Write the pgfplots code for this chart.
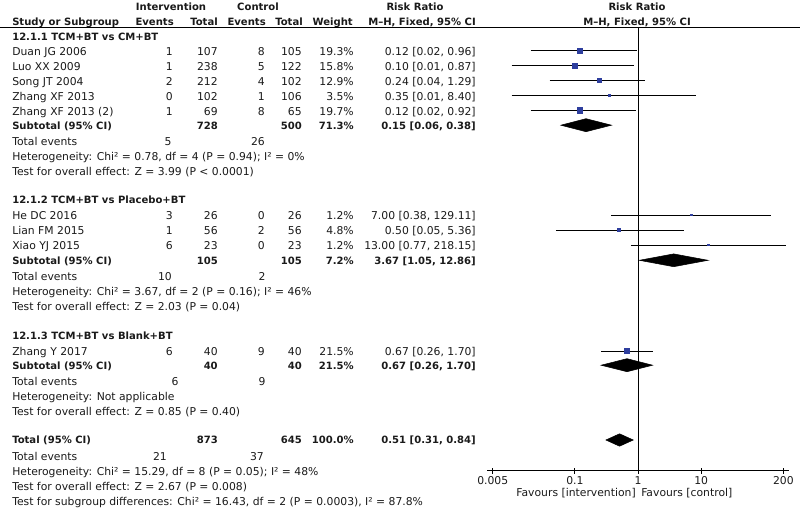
\documentclass[border=0pt]{standalone}
\usepackage{pgfplots}
\pgfplotsset{compat=1.18}
\usepackage{fontspec}
\setmainfont{DejaVu Sans}[BoldFeatures={Scale=0.93}]
\definecolor{sq}{HTML}{2E3E9E}
\definecolor{txt}{HTML}{1A1A1A}
\newcommand\f{\fontsize{8.1pt}{9.5pt}\selectfont}
\newcommand\rowx[8]{%
\node[anchor=west] at (12,#1) {#2};
\node[anchor=east] at (173,#1) {#3};
\node[anchor=east] at (218,#1) {#4};
\node[anchor=east] at (265,#1) {#5};
\node[anchor=east] at (302,#1) {#6};
\node[anchor=east] at (354,#1) {#7};
\node[anchor=east] at (476,#1) {#8};}
\newcommand\rowb[6]{%
\node[anchor=west,font=\f\bfseries] at (12,#1) {#2};
\node[anchor=east,font=\f\bfseries] at (218,#1) {#3};
\node[anchor=east,font=\f\bfseries] at (302,#1) {#4};
\node[anchor=east,font=\f\bfseries] at (354,#1) {#5};
\node[anchor=east,font=\f\bfseries] at (476,#1) {#6};}
\newcommand\tev[5]{%
\node[anchor=west] at (12,#1) {Total events};
\node at (#2,#1) {#3};
\node at (#4,#1) {#5};}
\newcommand\lt[2]{\node[anchor=west] at (12,#1) {#2};}
\begin{document}
\begin{tikzpicture}[font=\f, color=txt]
\useasboundingbox (0,0) rectangle (600pt,-381.75pt);
\begin{scope}[x=0.75pt,y=-0.75pt, every node/.style={inner sep=0pt, text height=5.9pt, text depth=0pt}]
% header
\node[font=\f\bfseries] at (171,7) {Intervention};
\node[font=\f\bfseries] at (258,7) {Control};
\node[font=\f\bfseries] at (415,6.5) {Risk Ratio};
\node[font=\f\bfseries] at (637,6.5) {Risk Ratio};
\node[anchor=west,font=\f\bfseries] at (12,21.5) {Study or Subgroup};
\node[anchor=east,font=\f\bfseries] at (174,21.5) {Events};
\node[anchor=east,font=\f\bfseries] at (218,21.5) {Total};
\node[anchor=east,font=\f\bfseries] at (266,21.5) {Events};
\node[anchor=east,font=\f\bfseries] at (303,21.5) {Total};
\node[anchor=east,font=\f\bfseries] at (353,21.5) {Weight};
\node[anchor=east,font=\f\bfseries] at (476,21.5) {M--H, Fixed, 95\% CI};
\node[font=\f\bfseries] at (637,21.5) {M--H, Fixed, 95\% CI};
\draw[line width=0.75pt, black] (0,27.8) -- (800,27.8);
% group 1
\node[anchor=west,font=\f\bfseries] at (12,37) {12.1.1 TCM+BT vs CM+BT};
\rowx{51.5}{Duan JG 2006}{1}{107}{8}{105}{19.3\%}{0.12 [0.02, 0.96]}
\rowx{66.4}{Luo XX 2009}{1}{238}{5}{122}{15.8\%}{0.10 [0.01, 0.87]}
\rowx{81.3}{Song JT 2004}{2}{212}{4}{102}{12.9\%}{0.24 [0.04, 1.29]}
\rowx{96.2}{Zhang XF 2013}{0}{102}{1}{106}{3.5\%}{0.35 [0.01, 8.40]}
\rowx{111.1}{Zhang XF 2013 (2)}{1}{69}{8}{65}{19.7\%}{0.12 [0.02, 0.92]}
\rowb{125.5}{Subtotal (95\% CI)}{728}{500}{71.3\%}{0.15 [0.06, 0.38]}
\tev{142}{168}{5}{258}{26}
\lt{157}{Heterogeneity: Chi² = 0.78, df = 4 (P = 0.94); I² = 0\%}
\lt{172}{Test for overall effect: Z = 3.99 (P < 0.0001)}
% group 2
\node[anchor=west,font=\f\bfseries] at (12,200) {12.1.2 TCM+BT vs Placebo+BT};
\rowx{215.8}{He DC 2016}{3}{26}{0}{26}{1.2\%}{7.00 [0.38, 129.11]}
\rowx{230.8}{Lian FM 2015}{1}{56}{2}{56}{4.8\%}{0.50 [0.05, 5.36]}
\rowx{245.8}{Xiao YJ 2015}{6}{23}{0}{23}{1.2\%}{13.00 [0.77, 218.15]}
\rowb{260.5}{Subtotal (95\% CI)}{105}{105}{7.2\%}{3.67 [1.05, 12.86]}
\tev{277}{165}{10}{262}{2}
\lt{292}{Heterogeneity: Chi² = 3.67, df = 2 (P = 0.16); I² = 46\%}
\lt{307}{Test for overall effect: Z = 2.03 (P = 0.04)}
% group 3
\node[anchor=west,font=\f\bfseries] at (12,335.5) {12.1.3 TCM+BT vs Blank+BT};
\rowx{351.5}{Zhang Y 2017}{6}{40}{9}{40}{21.5\%}{0.67 [0.26, 1.70]}
\rowb{365.5}{Subtotal (95\% CI)}{40}{40}{21.5\%}{0.67 [0.26, 1.70]}
\tev{382}{175}{6}{262}{9}
\lt{397}{Heterogeneity: Not applicable}
\lt{412}{Test for overall effect: Z = 0.85 (P = 0.40)}
% total
\rowb{440}{Total (95\% CI)}{873}{645}{100.0\%}{0.51 [0.31, 0.84]}
\tev{457}{160}{21}{257}{37}
\lt{472}{Heterogeneity: Chi² = 15.29, df = 8 (P = 0.05); I² = 48\%}
\lt{487}{Test for overall effect: Z = 2.67 (P = 0.008)}
\lt{502}{Test for subgroup differences: Chi² = 16.43, df = 2 (P = 0.0003), I² = 87.8\%}
% favours
\node[anchor=east] at (636,493) {Favours [intervention]};
\node[anchor=west] at (641,493) {Favours [control]};
\end{scope}
\begin{axis}[at={(365.25pt,-353.25pt)}, anchor=south west, scale only axis,
  width=226.5pt, height=332.25pt, xmode=log, xmin=0.00406, xmax=246,
  ymin=-471, ymax=-28, axis x line=bottom, axis y line=none,
  x axis line style={-, line width=0.75pt, black},
  xtick={0.005,0.1,1,10,200}, xticklabels={0.005,0.1,1,10,200},
  xminorticks=false, tick align=center, major tick length=4.5pt,
  tick style={black, line width=0.6pt},
  ticklabel style={font=\f, color=txt},
  xticklabel style={yshift=1.5pt},
  /pgf/number format/assume math mode=true, clip=false]
\addplot[black, line width=0.75pt] coordinates {(1,-28) (1,-471)};
% CI lines
\addplot[black, line width=0.7pt] coordinates {(0.02,-50.7) (0.96,-50.7)};
\addplot[black, line width=0.7pt] coordinates {(0.01,-65.6) (0.87,-65.6)};
\addplot[black, line width=0.7pt] coordinates {(0.04,-80.5) (1.29,-80.5)};
\addplot[black, line width=0.7pt] coordinates {(0.01,-95.4) (8.40,-95.4)};
\addplot[black, line width=0.7pt] coordinates {(0.02,-110.3) (0.92,-110.3)};
\addplot[black, line width=0.7pt] coordinates {(0.38,-215) (129.11,-215)};
\addplot[black, line width=0.7pt] coordinates {(0.05,-230) (5.36,-230)};
\addplot[black, line width=0.7pt] coordinates {(0.77,-245) (218.15,-245)};
\addplot[black, line width=0.7pt] coordinates {(0.26,-351) (1.70,-351)};
% squares
\addplot[only marks, mark=square*, color=sq, mark size=1.88pt] coordinates {(0.12,-50.7)};
\addplot[only marks, mark=square*, color=sq, mark size=1.72pt] coordinates {(0.10,-65.6)};
\addplot[only marks, mark=square*, color=sq, mark size=1.54pt] coordinates {(0.24,-80.5)};
\addplot[only marks, mark=square*, color=sq, mark size=0.83pt] coordinates {(0.35,-95.4)};
\addplot[only marks, mark=square*, color=sq, mark size=1.91pt] coordinates {(0.12,-110.3)};
\addplot[only marks, mark=square*, color=sq, mark size=0.5pt] coordinates {(7.00,-215)};
\addplot[only marks, mark=square*, color=sq, mark size=0.94pt] coordinates {(0.50,-230)};
\addplot[only marks, mark=square*, color=sq, mark size=0.5pt] coordinates {(13.00,-245)};
\addplot[only marks, mark=square*, color=sq, mark size=2.0pt] coordinates {(0.67,-351)};
% diamonds
\addplot[fill=black, draw=black] coordinates {(0.06,-125.2) (0.15,-118.7) (0.38,-125.2) (0.15,-131.7)} --cycle;
\addplot[fill=black, draw=black] coordinates {(1.05,-260.3) (3.67,-253.9) (12.86,-260.3) (3.67,-266.7)} --cycle;
\addplot[fill=black, draw=black] coordinates {(0.26,-365.2) (0.67,-358.7) (1.70,-365.2) (0.67,-371.7)} --cycle;
\addplot[fill=black, draw=black] coordinates {(0.31,-440) (0.51,-433.8) (0.84,-440) (0.51,-446.2)} --cycle;
\end{axis}
\end{tikzpicture}
\end{document}
